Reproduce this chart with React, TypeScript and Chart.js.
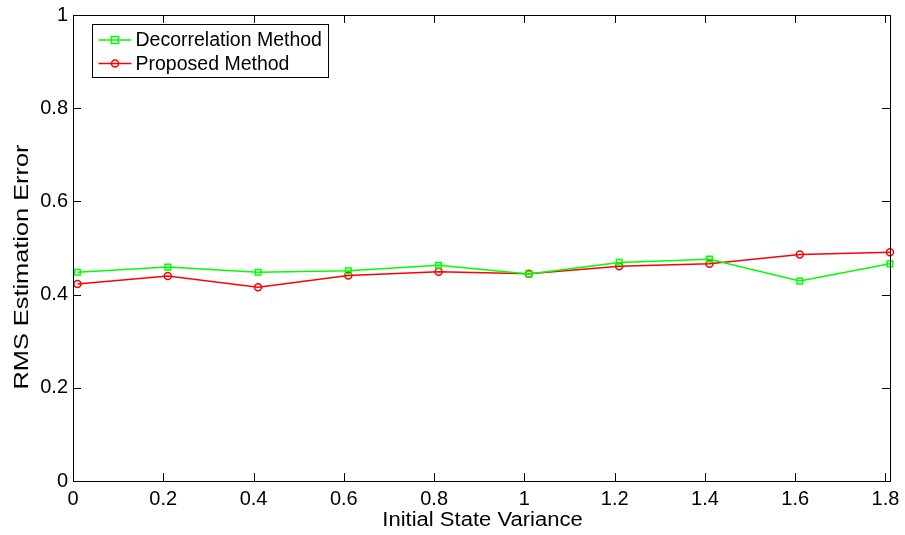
import React, { useEffect, useRef } from "react";
import { Chart, registerables } from "chart.js";

Chart.register(...registerables);

// Initial state variance values where both estimators were evaluated
const variances = [0.01, 0.21, 0.41, 0.61, 0.81, 1.01, 1.21, 1.41, 1.61, 1.81];
const decorrelationError = [0.448, 0.459, 0.448, 0.451, 0.463, 0.444, 0.469, 0.476, 0.429, 0.466];
const proposedError = [0.423, 0.440, 0.416, 0.441, 0.449, 0.445, 0.461, 0.466, 0.486, 0.491];
const xTickValues = [0, 0.2, 0.4, 0.6, 0.8, 1, 1.2, 1.4, 1.6, 1.8];
const yTickValues = [0, 0.2, 0.4, 0.6, 0.8, 1];
const xTitle = "Initial State Variance";
const yTitle = "RMS Estimation Error";

const FONT = "Liberation Sans, Arial, Helvetica, sans-serif";
const fmt = (v: number) => String(Math.round(v * 10) / 10);

// Boxed axes with inward ticks on all four sides
const framePlugin = {
  id: "frame",
  afterDraw(chart: any) {
    const { ctx, chartArea: a, scales } = chart;
    const tl = 8;
    ctx.save();
    ctx.strokeStyle = "#000";
    ctx.lineWidth = 1;
    ctx.beginPath();
    for (const v of xTickValues) {
      const x = Math.round(scales.x.getPixelForValue(v)) + 0.5;
      ctx.moveTo(x, a.bottom);
      ctx.lineTo(x, a.bottom - tl);
      ctx.moveTo(x, a.top);
      ctx.lineTo(x, a.top + tl);
    }
    for (const v of yTickValues) {
      const y = Math.round(scales.y.getPixelForValue(v)) + 0.5;
      ctx.moveTo(a.left, y);
      ctx.lineTo(a.left + tl, y);
      ctx.moveTo(a.right, y);
      ctx.lineTo(a.right - tl, y);
    }
    ctx.stroke();
    ctx.strokeRect(Math.round(a.left) + 0.5, Math.round(a.top) + 0.5, Math.round(a.right - a.left), Math.round(a.bottom - a.top));
    ctx.restore();
  },
};

// Axis titles, drawn with the wide glyphs of the original figure
const axisTitlePlugin = {
  id: "axisTitles",
  afterDraw(chart: any) {
    const { ctx, chartArea: a } = chart;
    ctx.save();
    ctx.fillStyle = "#000";
    ctx.textAlign = "center";
    ctx.textBaseline = "alphabetic";
    ctx.font = `19.5px ${FONT}`;

    ctx.save();
    ctx.translate((a.left + a.right) / 2 + 1, a.bottom + 45);
    ctx.scale(1.13, 1);
    ctx.fillText(xTitle, 0, 0);
    ctx.restore();

    ctx.save();
    ctx.translate(27.5, (a.top + a.bottom) / 2 + 19);
    ctx.rotate(-Math.PI / 2);
    ctx.scale(1.3, 1);
    ctx.fillText(yTitle, 0, 0);
    ctx.restore();

    ctx.restore();
  },
};

// Legend box placed inside the upper-left corner of the plot
const insideLegendPlugin = {
  id: "insideLegend",
  afterDraw(chart: any) {
    const { ctx, chartArea: a } = chart;
    const bx = Math.round(a.left) + 19.5;
    const by = Math.round(a.top) + 9.5;
    const bw = 236;
    const bh = 53;
    ctx.save();
    ctx.fillStyle = "#fff";
    ctx.fillRect(bx, by, bw, bh);
    ctx.strokeStyle = "#000";
    ctx.lineWidth = 1;
    ctx.strokeRect(bx, by, bw, bh);
    ctx.font = `19.5px ${FONT}`;
    ctx.textBaseline = "middle";
    chart.data.datasets.forEach((ds: any, i: number) => {
      const cy = by + 15.5 + i * 23.5;
      const x0 = bx + 6;
      const x1 = bx + 39;
      const mx = (x0 + x1) / 2;
      ctx.strokeStyle = ds.borderColor;
      ctx.lineWidth = 1.5;
      ctx.beginPath();
      ctx.moveTo(x0, cy);
      ctx.lineTo(x1, cy);
      ctx.stroke();
      ctx.beginPath();
      if (ds.pointStyle === "rect") {
        ctx.rect(mx - 3.5, cy - 3.5, 7, 7);
      } else {
        ctx.arc(mx, cy, 3.5, 0, Math.PI * 2);
      }
      ctx.stroke();
      ctx.fillStyle = "#000";
      ctx.fillText(ds.label, bx + 43, cy + 1);
    });
    ctx.restore();
  },
};

export default function App() {
  const canvasRef = useRef<HTMLCanvasElement>(null);

  useEffect(() => {
    if (!canvasRef.current) return;
    const chart = new Chart(canvasRef.current, {
      type: "line",
      data: {
        datasets: [
          {
            label: "Decorrelation Method",
            data: variances.map((v, i) => ({ x: v, y: decorrelationError[i] })),
            borderColor: "#00ff00",
            backgroundColor: "rgba(0,0,0,0)",
            pointStyle: "rect",
            pointRadius: 4,
            pointBorderWidth: 1.5,
            pointBackgroundColor: "rgba(0,0,0,0)",
            borderWidth: 1.5,
            tension: 0,
            clip: false,
          },
          {
            label: "Proposed Method",
            data: variances.map((v, i) => ({ x: v, y: proposedError[i] })),
            borderColor: "#ff0000",
            backgroundColor: "rgba(0,0,0,0)",
            pointStyle: "circle",
            pointRadius: 3.5,
            pointBorderWidth: 1.5,
            pointBackgroundColor: "rgba(0,0,0,0)",
            borderWidth: 1.5,
            tension: 0,
            clip: false,
          },
        ],
      },
      options: {
        animation: false,
        responsive: false,
        devicePixelRatio: 1,
        layout: { padding: { top: 15, right: 15, left: 0, bottom: 0 } },
        plugins: {
          legend: { display: false },
          tooltip: { enabled: false },
        },
        scales: {
          x: {
            type: "linear",
            min: 0,
            max: 1.81,
            afterBuildTicks: (s: any) => {
              s.ticks = xTickValues.map((v) => ({ value: v }));
            },
            afterFit: (s: any) => {
              s.height = 54;
              s.paddingLeft = 0;
              s.paddingRight = 0;
            },
            grid: { display: false, drawTicks: false },
            border: { display: false },
            ticks: {
              color: "#000",
              font: { family: FONT, size: 20, lineHeight: 1 },
              padding: 8,
              maxRotation: 0,
              autoSkip: false,
              callback: (v: any) => fmt(Number(v)),
            },
          },
          y: {
            type: "linear",
            min: 0,
            max: 1,
            afterBuildTicks: (s: any) => {
              s.ticks = yTickValues.map((v) => ({ value: v }));
            },
            afterFit: (s: any) => {
              s.width = 73;
              s.paddingTop = 0;
              s.paddingBottom = 0;
            },
            grid: { display: false, drawTicks: false },
            border: { display: false },
            ticks: {
              color: "#000",
              font: { family: FONT, size: 20, lineHeight: 1 },
              padding: 5,
              autoSkip: false,
              callback: (v: any) => fmt(Number(v)),
            },
          },
        },
      },
      plugins: [framePlugin, axisTitlePlugin, insideLegendPlugin],
    });
    return () => chart.destroy();
  }, []);

  return (
    <div style={{ position: "fixed", left: 0, top: 0, width: 905, height: 535, background: "#fff" }}>
      <canvas ref={canvasRef} width={905} height={535} style={{ width: 905, height: 535 }} />
    </div>
  );
}
